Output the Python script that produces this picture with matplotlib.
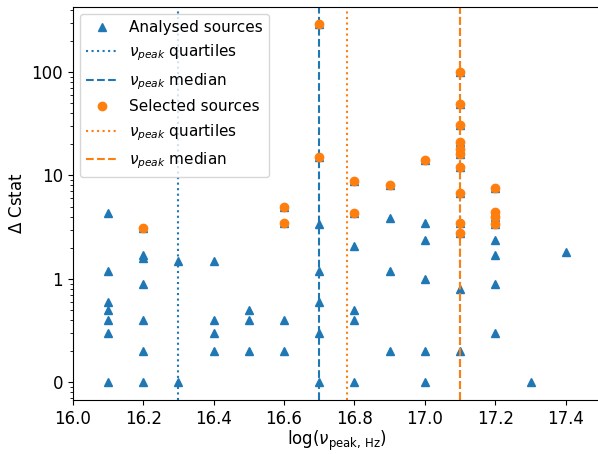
import numpy as np
import matplotlib.pyplot as plt

# log(nu_peak) and Delta Cstat for every analysed source
analysed_x = [16.1] * 7 + [16.2] * 7 + [16.3] * 2 + [16.4] * 4 + [16.5] * 3 + [16.6] * 4 \
    + [16.7] * 7 + [16.8] * 6 + [16.9] * 4 + [17.0] * 6 + [17.1] * 12 + [17.2] * 8 \
    + [17.3] + [17.4]
analysed_y = [4.3, 1.2, 0.6, 0.5, 0.4, 0.3, 0,
              3.1, 1.7, 1.6, 0.9, 0.4, 0.2, 0,
              1.5, 0,
              1.5, 0.4, 0.3, 0.2,
              0.5, 0.4, 0.2,
              5.0, 3.5, 0.4, 0.2,
              290, 15, 3.4, 1.2, 0.6, 0.3, 0,
              8.9, 4.3, 2.1, 0.5, 0.4, 0,
              8.1, 3.9, 1.2, 0.2,
              14, 3.5, 2.4, 1.0, 0.2, 0,
              100, 49, 31, 21, 18, 16, 12, 6.8, 3.5, 2.8, 0.8, 0.2,
              7.5, 4.4, 4.0, 3.4, 2.4, 1.7, 0.9, 0.3,
              0,
              1.8]

# subset that passed the selection
selected_x = [16.2, 16.6, 16.6, 16.7, 16.7, 16.8, 16.8, 16.9, 17.0] + [17.1] * 10 + [17.2] * 4
selected_y = [3.1, 5.0, 3.5, 290, 15, 8.9, 4.3, 8.1, 14,
              100, 49, 31, 21, 18, 16, 12, 6.8, 3.5, 2.8,
              7.5, 4.4, 4.0, 3.4]

analysed_quartiles = [16.3, 17.1]
analysed_median = 16.7
selected_quartiles = [16.78, 17.1]
selected_median = 17.1

# zeros can't go on a log axis, park them at 0.1 and label that tick "0"
zero_pos = 0.1
ya = np.where(np.array(analysed_y) == 0, zero_pos, analysed_y)
ys = np.where(np.array(selected_y) == 0, zero_pos, selected_y)


def peak_lines(ax, quartiles, median, color):
    # a quartile sitting on the median would just hide the dashed line
    qs = [q for q in quartiles if q != median]
    for i, q in enumerate(qs):
        ax.axvline(q, color=color, ls=':', label=r'$\nu_{peak}$ quartiles' if i == 0 else None)
    ax.axvline(median, color=color, ls='--', label=r'$\nu_{peak}$ median')


fig, ax = plt.subplots(figsize=(5.98, 4.54), dpi=100)
ax.set_position([72.7 / 598, 54 / 454, 528.3 / 598, 393.5 / 454])

ax.plot(analysed_x, ya, '^', color='tab:blue', label='Analysed sources')
peak_lines(ax, analysed_quartiles, analysed_median, 'tab:blue')

ax.plot(selected_x, ys, 'o', color='tab:orange', label='Selected sources')
peak_lines(ax, selected_quartiles, selected_median, 'tab:orange')

ax.set_yscale('log')
ax.set_yticks([0.1, 1, 10, 100])
ax.set_yticklabels(['0', '1', '10', '100'])
ax.set_xlim(16.0, 17.5)
ax.tick_params(labelsize=12)

ax.set_xlabel(r'log($\nu_{\mathrm{peak,\,Hz}}$)', fontsize=12, labelpad=1)
ax.set_ylabel(r'$\Delta$ Cstat', fontsize=12)
ax.legend(loc='upper left', fontsize=11)

fig.savefig('out.png', dpi=100)
